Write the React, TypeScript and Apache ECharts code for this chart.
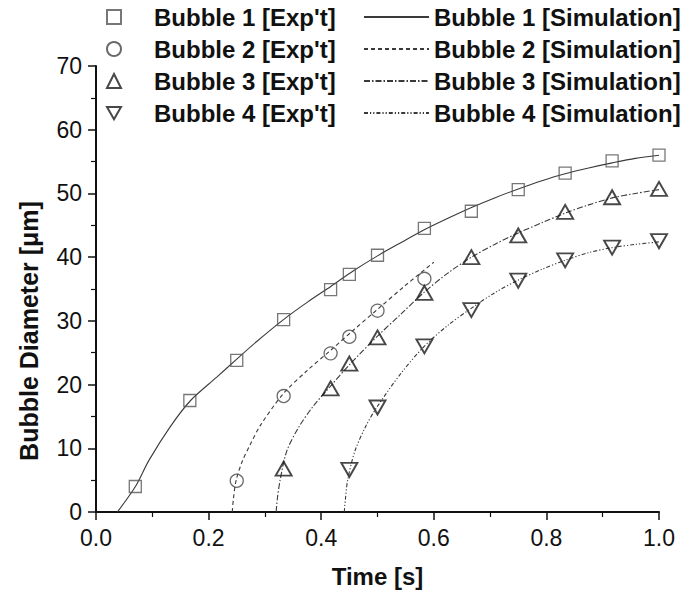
import React, { useEffect, useRef } from "react";
import * as echarts from "echarts";

// Experimental data (time [s], diameter [µm])
const exp1: number[][] = [
  [0.0698, 4.0], [0.1667, 17.5], [0.25, 23.8], [0.3333, 30.2], [0.4167, 34.9], [0.45, 37.3],
  [0.5, 40.3], [0.5833, 44.5], [0.6667, 47.2], [0.75, 50.6], [0.8333, 53.2], [0.9167, 55.1], [1.0, 56.0],
];
const exp2: number[][] = [
  [0.25, 4.9], [0.3333, 18.2], [0.4167, 24.9], [0.45, 27.5], [0.5, 31.6], [0.5833, 36.6],
];
const exp3: number[][] = [
  [0.3333, 6.8], [0.4167, 19.4], [0.45, 23.3], [0.5, 27.4], [0.5833, 34.4], [0.6667, 40.0],
  [0.75, 43.4], [0.8333, 47.1], [0.9167, 49.4], [1.0, 50.7],
];
const exp4: number[][] = [
  [0.45, 6.6], [0.5, 16.4], [0.5833, 26.0], [0.6667, 31.7], [0.75, 36.3], [0.8333, 39.5],
  [0.9167, 41.5], [1.0, 42.5],
];

// Simulation curves
const sim1: number[][] = [
  [0.038, 0], [0.07, 4], [0.094, 8.1], [0.132, 13.4], [0.168, 17.5], [0.215, 21.2], [0.25, 24.0],
  [0.286, 26.8], [0.333, 30.2], [0.375, 32.9], [0.417, 35.4], [0.458, 37.9], [0.5, 40.2],
  [0.542, 42.3], [0.583, 44.3], [0.625, 46.1], [0.667, 47.8], [0.708, 49.3], [0.75, 50.7],
  [0.792, 52.0], [0.833, 53.1], [0.875, 54.0], [0.917, 54.8], [0.958, 55.5], [1.0, 56.0],
];
const sim2: number[][] = [
  [0.242, 0], [0.244, 2], [0.249, 5], [0.26, 8], [0.274, 10.6], [0.292, 13.6], [0.333, 18.6],
  [0.375, 22.2], [0.417, 25.4], [0.458, 28.6], [0.5, 31.8], [0.55, 35.6], [0.6, 39.2],
];
const sim3: number[][] = [
  [0.32, 0], [0.322, 2], [0.327, 5], [0.339, 9.6], [0.36, 13.3], [0.385, 16.5], [0.417, 19.8],
  [0.45, 23.1], [0.5, 27.6], [0.542, 31.1], [0.583, 34.5], [0.625, 37.5], [0.667, 40.0],
  [0.708, 42.0], [0.75, 43.8], [0.792, 45.4], [0.833, 46.9], [0.875, 48.2], [0.917, 49.3],
  [0.958, 50.0], [1.0, 50.6],
];
const sim4: number[][] = [
  [0.441, 0], [0.443, 2], [0.447, 5], [0.46, 9.6], [0.48, 13.6], [0.5, 16.6], [0.542, 21.8],
  [0.583, 26.0], [0.625, 29.3], [0.667, 32.0], [0.708, 34.4], [0.75, 36.4], [0.792, 38.1],
  [0.833, 39.5], [0.875, 40.7], [0.917, 41.5], [0.958, 42.0], [1.0, 42.4],
];

const expNames = ["Bubble 1 [Exp't]", "Bubble 2 [Exp't]", "Bubble 3 [Exp't]", "Bubble 4 [Exp't]"];
const simNames = [
  "Bubble 1 [Simulation]", "Bubble 2 [Simulation]", "Bubble 3 [Simulation]", "Bubble 4 [Simulation]",
];
const xTitle = "Time [s]";
const yTitle = "Bubble Diameter [\u03bcm]";

const FONT = "'Liberation Sans', Arial, sans-serif";
const INV_TRIANGLE = "path://M0,0L16,0L8,14Z";

export default function App() {
  const ref = useRef<HTMLDivElement>(null);
  useEffect(() => {
    document.body.style.margin = "0";
    if (!ref.current) return;
    const chart = echarts.init(ref.current, null, { renderer: "svg" });
    const lineColor = "#3a3a3a";
    const scatterBase = (
      name: string, data: number[][], symbol: string, size: any, bw: number, stroke: string
    ) => ({
      name,
      type: "scatter",
      data,
      symbol,
      symbolSize: size,
      itemStyle: { color: "rgba(255,255,255,0)", borderColor: stroke, borderWidth: bw },
      z: 3,
    });
    const lineBase = (name: string, data: number[][], type: any) => ({
      name,
      type: "line",
      data,
      smooth: 0.3,
      symbol: "none",
      showSymbol: false,
      lineStyle: { color: lineColor, width: 1.1, type },
      itemStyle: { color: lineColor },
      z: 2,
    });
    const legendText = {
      fontFamily: FONT, fontSize: 24, fontWeight: "bold", color: "#111", lineHeight: 24,
    };
    chart.setOption({
      animation: false,
      backgroundColor: "#fff",
      textStyle: { fontFamily: FONT },
      grid: { left: 96, right: 24, top: 66, bottom: 82 },
      legend: [
        {
          data: [
            { name: expNames[0], icon: "rect" },
            { name: expNames[1], icon: "circle" },
            { name: expNames[2], icon: "triangle" },
            { name: expNames[3], icon: INV_TRIANGLE },
          ],
          orient: "vertical",
          left: 106,
          top: 5,
          padding: 0,
          itemWidth: 14,
          itemHeight: 14,
          itemGap: 8,
          textStyle: { ...legendText, padding: [0, 0, 0, 28] },
          selectedMode: false,
        },
        {
          data: simNames,
          orient: "vertical",
          left: 363,
          top: 5,
          padding: 0,
          itemWidth: 65,
          itemHeight: 14,
          itemGap: 8,
          itemStyle: { color: "rgba(0,0,0,0)", borderColor: "rgba(0,0,0,0)", borderWidth: 0 },
          textStyle: legendText,
          selectedMode: false,
        },
      ],
      graphic: [
        {
          type: "text",
          x: 29,
          y: 331,
          rotation: Math.PI / 2,
          style: {
            text: yTitle,
            fontFamily: FONT,
            fontSize: 25,
            fontWeight: "bold",
            fill: "#111",
            align: "center",
            verticalAlign: "middle",
          },
        },
      ],
      xAxis: {
        type: "value",
        min: 0,
        max: 1,
        interval: 0.2,
        name: xTitle,
        nameLocation: "middle",
        nameGap: 52,
        nameTextStyle: { fontFamily: FONT, fontSize: 24, fontWeight: "bold", color: "#111" },
        axisLine: { show: true, onZero: false, lineStyle: { color: "#111", width: 2 } },
        axisTick: { show: true, inside: false, length: 8, lineStyle: { color: "#111", width: 1.5 } },
        minorTick: { show: true, splitNumber: 2, length: 5, lineStyle: { color: "#111", width: 1.2 } },
        axisLabel: {
          fontFamily: FONT,
          fontSize: 23,
          color: "#111",
          margin: 14,
          formatter: (v: number) => v.toFixed(1),
        },
        splitLine: { show: false },
      },
      yAxis: {
        type: "value",
        min: 0,
        max: 70,
        interval: 10,
        axisLine: { show: true, onZero: false, lineStyle: { color: "#111", width: 2 } },
        axisTick: { show: true, inside: false, length: 8, lineStyle: { color: "#111", width: 1.5 } },
        minorTick: { show: true, splitNumber: 2, length: 5, lineStyle: { color: "#111", width: 1.2 } },
        axisLabel: { fontFamily: FONT, fontSize: 23, color: "#111", margin: 14 },
        splitLine: { show: false },
      },
      series: [
        lineBase(simNames[0], sim1, "solid"),
        lineBase(simNames[1], sim2, [4, 3]),
        lineBase(simNames[2], sim3, [6, 2, 1.5, 2]),
        lineBase(simNames[3], sim4, [4, 2, 1.2, 2, 1.2, 2]),
        scatterBase(expNames[0], exp1, "rect", 12, 1.3, "#555"),
        scatterBase(expNames[1], exp2, "circle", 13, 1.3, "#444"),
        scatterBase(expNames[2], exp3, "triangle", [16, 14], 1.9, "#1a1a1a"),
        scatterBase(expNames[3], exp4, INV_TRIANGLE, [16, 14], 1.9, "#1a1a1a"),
      ],
    });
    return () => chart.dispose();
  }, []);
  return <div ref={ref} style={{ width: 683, height: 594 }} />;
}
